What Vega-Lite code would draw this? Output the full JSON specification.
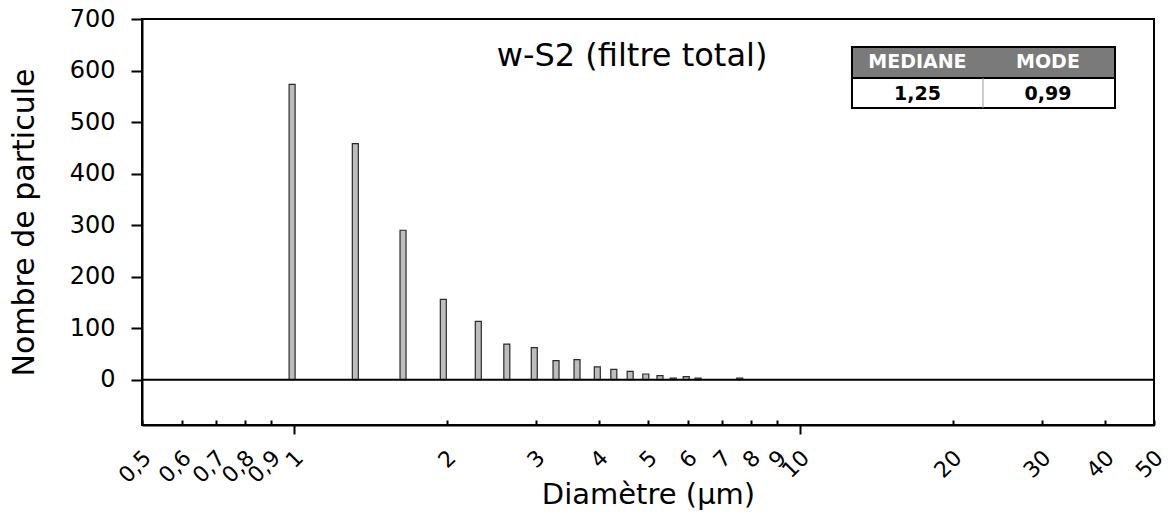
{
  "$schema": "https://vega.github.io/schema/vega-lite/v6.json",
  "width": 1012,
  "height": 406,
  "autosize": {"type": "none"},
  "padding": {"left": 142, "top": 19, "right": 16, "bottom": 96},
  "background": "white",
  "config": {
    "font": "DejaVu Sans",
    "view": {"stroke": "black", "strokeWidth": 2},
    "axis": {
      "labelColor": "black", "titleColor": "black", "domainColor": "black", "tickColor": "black",
      "titleFontWeight": "normal", "grid": false, "labelOverlap": false, "labelFlush": false
    }
  },
  "datasets": {
    "bars": [
      {"diametre": 0.99, "nombre": 573},
      {"diametre": 1.32, "nombre": 458},
      {"diametre": 1.64, "nombre": 290},
      {"diametre": 1.97, "nombre": 156},
      {"diametre": 2.31, "nombre": 113},
      {"diametre": 2.63, "nombre": 69},
      {"diametre": 2.98, "nombre": 62},
      {"diametre": 3.29, "nombre": 37},
      {"diametre": 3.62, "nombre": 39},
      {"diametre": 3.97, "nombre": 25},
      {"diametre": 4.28, "nombre": 20},
      {"diametre": 4.61, "nombre": 16},
      {"diametre": 4.95, "nombre": 11},
      {"diametre": 5.28, "nombre": 8},
      {"diametre": 5.61, "nombre": 3},
      {"diametre": 5.95, "nombre": 6},
      {"diametre": 6.28, "nombre": 3},
      {"diametre": 7.59, "nombre": 3}
    ],
    "table": [
      {"stat": "MEDIANE", "val": "1,25"},
      {"stat": "MODE", "val": "0,99"}
    ]
  },
  "layer": [
    {
      "data": {"name": "bars"},
      "mark": {"type": "bar", "size": 6, "fill": "#bdbdbd", "stroke": "#2a2a2a", "strokeWidth": 1.2},
      "encoding": {
        "x": {
          "field": "diametre", "type": "quantitative",
          "scale": {"type": "log", "domain": [0.5, 50], "nice": false, "padding": 0},
          "axis": {
            "orient": "bottom",
            "values": [0.5, 0.6, 0.7, 0.8, 0.9, 1, 2, 3, 4, 5, 6, 7, 8, 9, 10, 20, 30, 40, 50],
            "tickSize": {"condition": {"test": "datum.value == 1 || datum.value == 10", "value": 9}, "value": -5},
            "tickWidth": 2, "domainWidth": 2,
            "labelAngle": -45, "labelAlign": "right", "labelBaseline": "middle",
            "labelPadding": {"condition": {"test": "datum.value == 1 || datum.value == 10", "value": 20}, "value": 34},
            "labelOffset": 5,
            "labelFontSize": 22,
            "labelExpr": "replace(format(datum.value, '.1~f'), '.', ',')",
            "title": "Diamètre (µm)", "titleFontSize": 29, "titleY": 78, "titleBaseline": "alphabetic"
          }
        },
        "y": {
          "field": "nombre", "type": "quantitative",
          "scale": {"domain": [-88, 700], "nice": false, "padding": 0},
          "axis": {
            "orient": "left",
            "values": [0, 100, 200, 300, 400, 500, 600, 700],
            "tickSize": 11, "tickWidth": 2, "domainWidth": 2,
            "labelPadding": 16, "labelFontSize": 24,
            "title": "Nombre de particule", "titleFontSize": 30, "titlePadding": 30
          }
        }
      }
    },
    {
      "data": {"values": [{}]},
      "mark": {"type": "rule", "color": "black", "strokeWidth": 2},
      "encoding": {
        "y": {"datum": 0, "type": "quantitative"}
      }
    },
    {
      "data": {"values": [{"titre": "w-S2 (filtre total)"}]},
      "mark": {"type": "text", "fontSize": 32, "align": "center", "baseline": "alphabetic", "color": "black"},
      "encoding": {
        "text": {"field": "titre"},
        "x": {"datum": 4.65, "type": "quantitative"},
        "y": {"datum": 608.8, "type": "quantitative"}
      }
    },
    {
      "data": {"values": [{}]},
      "mark": {"type": "rect", "fill": "#7a7a7a", "stroke": "black", "strokeWidth": 2},
      "encoding": {
        "x": {"datum": 12.65, "type": "quantitative"},
        "x2": {"datum": 41.87},
        "y": {"datum": 645.7, "type": "quantitative"},
        "y2": {"datum": 585.5}
      }
    },
    {
      "data": {"values": [{}]},
      "mark": {"type": "rect", "fill": "white", "stroke": "black", "strokeWidth": 2},
      "encoding": {
        "x": {"datum": 12.65, "type": "quantitative"},
        "x2": {"datum": 41.87},
        "y": {"datum": 585.5, "type": "quantitative"},
        "y2": {"datum": 527.3}
      }
    },
    {
      "data": {"values": [{}]},
      "mark": {"type": "rule", "color": "#9a9a9a", "strokeWidth": 1},
      "encoding": {
        "x": {"datum": 22.96, "type": "quantitative"},
        "y": {"datum": 585.5, "type": "quantitative"},
        "y2": {"datum": 527.3}
      }
    },
    {
      "data": {"name": "table"},
      "transform": [{"filter": "datum.stat == 'MEDIANE'"}],
      "layer": [
        {
          "mark": {"type": "text", "fontSize": 19, "fontWeight": "bold", "color": "white", "align": "center", "baseline": "alphabetic"},
          "encoding": {
            "text": {"field": "stat"},
            "x": {"datum": 17.04, "type": "quantitative"},
            "y": {"datum": 604.3, "type": "quantitative"}
          }
        },
        {
          "mark": {"type": "text", "fontSize": 19, "fontWeight": "bold", "color": "black", "align": "center", "baseline": "alphabetic"},
          "encoding": {
            "text": {"field": "val"},
            "x": {"datum": 17.04, "type": "quantitative"},
            "y": {"datum": 542.8, "type": "quantitative"}
          }
        }
      ]
    },
    {
      "data": {"name": "table"},
      "transform": [{"filter": "datum.stat == 'MODE'"}],
      "layer": [
        {
          "mark": {"type": "text", "fontSize": 19, "fontWeight": "bold", "color": "white", "align": "center", "baseline": "alphabetic"},
          "encoding": {
            "text": {"field": "stat"},
            "x": {"datum": 30.86, "type": "quantitative"},
            "y": {"datum": 604.3, "type": "quantitative"}
          }
        },
        {
          "mark": {"type": "text", "fontSize": 19, "fontWeight": "bold", "color": "black", "align": "center", "baseline": "alphabetic"},
          "encoding": {
            "text": {"field": "val"},
            "x": {"datum": 30.86, "type": "quantitative"},
            "y": {"datum": 542.8, "type": "quantitative"}
          }
        }
      ]
    }
  ]
}
